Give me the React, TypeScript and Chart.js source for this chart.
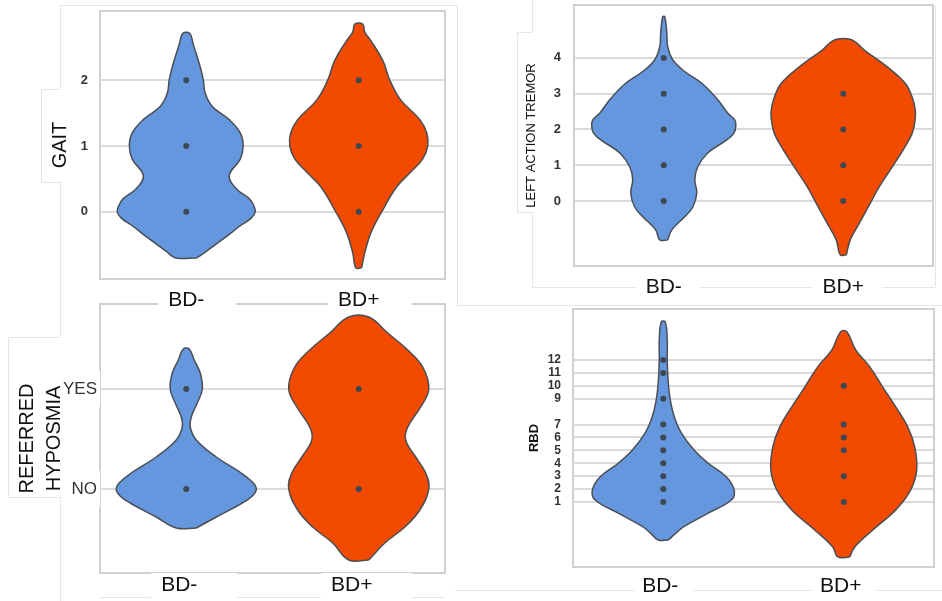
import React, { useEffect, useRef } from 'react';
import { Chart, registerables } from 'chart.js';

Chart.register(...registerables);

const FONT = "'Liberation Sans', Arial, Helvetica, sans-serif";
const BLUE = '#6597DE';
const ORANGE = '#F24A00';
const OUTLINE = '#4a4e55';
const DOT = '#3e4852';
const GRID = '#dadada';
const FRAME = '#d0d0d0';

const categories = ['BD-', 'BD+'];

// GAIT
const gaitTicks = [0, 1, 2];
const gaitMinusY = [-0.70, -0.6, -0.4, -0.2, -0.1, 0.0, 0.1, 0.2, 0.35, 0.55, 0.8, 1.0, 1.2, 1.4, 1.6, 1.8, 2.0, 2.2, 2.4, 2.55, 2.71];
const gaitMinusW = [0.061, 0.116, 0.220, 0.319, 0.375, 0.400, 0.390, 0.365, 0.290, 0.249, 0.313, 0.330, 0.313, 0.249, 0.151, 0.110, 0.099, 0.081, 0.058, 0.040, 0.020];
const gaitMinusPts = [0, 1, 2];
const gaitPlusY = [-0.85, -0.62, -0.32, 0.0, 0.38, 0.59, 0.8, 1.0, 1.2, 1.4, 1.7, 2.0, 2.3, 2.6, 2.73, 2.85];
const gaitPlusW = [0.017, 0.035, 0.070, 0.133, 0.220, 0.296, 0.370, 0.400, 0.394, 0.354, 0.243, 0.180, 0.139, 0.070, 0.035, 0.023];
const gaitPlusPts = [0, 1, 2];

// LEFT ACTION TREMOR
const latTicks = [0, 1, 2, 3, 4];
const latMinusY = [-1.09, -0.81, -0.44, -0.17, 0.22, 0.59, 0.95, 1.34, 1.71, 1.89, 2.07, 2.26, 2.45, 2.83, 3.29, 3.62, 3.95, 4.32, 4.7, 5.15];
const latMinusW = [0.022, 0.045, 0.117, 0.162, 0.184, 0.173, 0.189, 0.245, 0.351, 0.390, 0.401, 0.396, 0.357, 0.301, 0.212, 0.117, 0.050, 0.022, 0.017, 0.006];
const latMinusPts = [0, 1, 2, 3, 4];
const latPlusY = [-1.51, -1.09, -0.63, -0.07, 0.40, 0.95, 1.43, 1.89, 2.3, 2.55, 2.9, 3.29, 3.75, 4.22, 4.45, 4.53];
const latPlusW = [0.017, 0.039, 0.089, 0.150, 0.201, 0.273, 0.334, 0.384, 0.401, 0.401, 0.384, 0.345, 0.245, 0.117, 0.067, 0.033];
const latPlusPts = [0, 1, 2, 3];

// REFERRED HYPOSMIA
const hypTicks = [0, 1];
const hypTickLabels = ['NO', 'YES'];
const hypMinusY = [-0.39, -0.28, -0.14, -0.07, 0.0, 0.07, 0.16, 0.32, 0.49, 0.62, 0.72, 0.86, 1.0, 1.16, 1.29, 1.40];
const hypMinusW = [0.058, 0.174, 0.325, 0.383, 0.406, 0.383, 0.319, 0.174, 0.058, 0.023, 0.029, 0.064, 0.093, 0.081, 0.046, 0.017];
const hypMinusPts = [0, 1];
const hypPlusY = [-0.71, -0.54, -0.38, -0.21, 0.0, 0.16, 0.32, 0.49, 0.62, 0.82, 1.0, 1.22, 1.39, 1.56, 1.72];
const hypPlusW = [0.058, 0.151, 0.267, 0.354, 0.406, 0.388, 0.330, 0.272, 0.284, 0.359, 0.406, 0.371, 0.284, 0.168, 0.058];
const hypPlusPts = [0, 1];

// RBD
const rbdTicks = [1, 2, 3, 4, 5, 6, 7, 9, 10, 11, 12];
const rbdMinusY = [-1.95, -1.4, -0.9, 0.13, 1.15, 1.9, 2.95, 4.0, 5.0, 6.35, 7.6, 8.9, 10.2, 12.0, 13.56, 14.95];
const rbdMinusW = [0.028, 0.072, 0.116, 0.249, 0.377, 0.393, 0.349, 0.249, 0.172, 0.100, 0.061, 0.039, 0.028, 0.022, 0.022, 0.011];
const rbdMinusPts = [1, 2, 3, 4, 5, 6, 7, 9, 11, 12];
const rbdPlusY = [-3.26, -2.49, -1.17, 0.38, 1.93, 3.48, 5.26, 6.8, 8.36, 9.9, 11.47, 12.78, 14.18];
const rbdPlusW = [0.033, 0.061, 0.161, 0.288, 0.371, 0.404, 0.393, 0.355, 0.288, 0.216, 0.144, 0.066, 0.017];
const rbdPlusPts = [1, 3, 5, 6, 7, 10];

type Violin = { ys: number[]; ws: number[]; pts: number[] };
type Pad = { top: number; bottom: number; left: number; right: number };
type Panel = {
  id: string;
  left: number; top: number; width: number; height: number;
  area: { l: number; t: number; r: number; b: number };
  yMin: number; yMax: number; ticks: number[]; tickLabels?: string[];
  title: string | string[]; titleSize: number; titleBold: boolean; titleLine: number; titlePad: number;
  tickSize: number; tickBold: boolean; tickPad: number; tickBackdrop?: Pad;
  xPad: number; xOffset: number; xBackdrop: Pad;
  violins: Violin[]; z: number;
};

const panels: Panel[] = [
  {
    id: 'gait', left: 0, top: 0, width: 470, height: 310,
    area: { l: 100, t: 11, r: 445, b: 279 },
    yMin: -1.02, yMax: 3.05, ticks: gaitTicks,
    title: 'GAIT', titleSize: 20, titleBold: false, titleLine: 1.2, titlePad: 48,
    tickSize: 13, tickBold: true, tickPad: 12,
    xPad: 1, xOffset: 0, xBackdrop: { top: 4, bottom: 2, left: 10, right: 32 },
    violins: [
      { ys: gaitMinusY, ws: gaitMinusW, pts: gaitMinusPts },
      { ys: gaitPlusY, ws: gaitPlusW, pts: gaitPlusPts },
    ],
    z: 2,
  },
  {
    id: 'lat', left: 470, top: 0, width: 472, height: 305,
    area: { l: 104, t: 5, r: 463, b: 266 },
    yMin: -1.82, yMax: 5.48, ticks: latTicks,
    title: 'LEFT ACTION TREMOR', titleSize: 13, titleBold: false, titleLine: 1.2, titlePad: 54,
    tickSize: 13, tickBold: true, tickPad: 13,
    xPad: 1, xOffset: 0, xBackdrop: { top: 4, bottom: 0, left: 10, right: 18 },
    violins: [
      { ys: latMinusY, ws: latMinusW, pts: latMinusPts },
      { ys: latPlusY, ws: latPlusW, pts: latPlusPts },
    ],
    z: 2,
  },
  {
    id: 'hyp', left: 0, top: 300, width: 470, height: 301,
    area: { l: 100, t: 4, r: 445, b: 273 },
    yMin: -0.84, yMax: 1.85, ticks: hypTicks, tickLabels: hypTickLabels,
    title: ['REFERRED', 'HYPOSMIA'], titleSize: 20, titleBold: false, titleLine: 1.35, titlePad: 14,
    tickSize: 17, tickBold: false, tickPad: 3, tickBackdrop: { top: 8, bottom: 8, left: 2, right: 29 },
    xPad: -8, xOffset: -7, xBackdrop: { top: 0, bottom: 9, left: 10, right: 40 },
    violins: [
      { ys: hypMinusY, ws: hypMinusW, pts: hypMinusPts },
      { ys: hypPlusY, ws: hypPlusW, pts: hypPlusPts },
    ],
    z: 1,
  },
  {
    id: 'rbd', left: 455, top: 300, width: 487, height: 301,
    area: { l: 118, t: 9, r: 479, b: 267 },
    yMin: -4.04, yMax: 15.95, ticks: rbdTicks,
    title: 'RBD', titleSize: 13, titleBold: true, titleLine: 1.2, titlePad: 72,
    tickSize: 12, tickBold: true, tickPad: 12,
    xPad: -1, xOffset: -3, xBackdrop: { top: 1, bottom: 2, left: 8, right: 15 },
    violins: [
      { ys: rbdMinusY, ws: rbdMinusW, pts: rbdMinusPts },
      { ys: rbdPlusY, ws: rbdPlusW, pts: rbdPlusPts },
    ],
    z: 1,
  },
];

const framePlugin = {
  id: 'frame',
  beforeDraw(chart: any) {
    const { ctx, chartArea: a } = chart;
    ctx.save();
    ctx.strokeStyle = FRAME;
    ctx.lineWidth = 2;
    ctx.strokeRect(a.left, a.top, a.right - a.left, a.bottom - a.top);
    ctx.restore();
  },
};

function ViolinPanel({ p }: { p: Panel }) {
  const ref = useRef<HTMLCanvasElement>(null);
  useEffect(() => {
    const colors = [BLUE, ORANGE];
    const dotSets = p.violins.map((v, i) => ({
      data: v.pts.map((y) => ({ x: i, y })),
      showLine: false,
      pointRadius: 3,
      pointBackgroundColor: DOT,
      pointBorderWidth: 0,
      pointBorderColor: DOT,
    }));
    const shapeSets = p.violins.map((v, i) => {
      const right = v.ys.map((y, k) => ({ x: i + v.ws[k], y }));
      const left = v.ys.map((y, k) => ({ x: i - v.ws[k], y })).reverse();
      return {
        data: [...right, ...left, right[0]],
        showLine: true,
        fill: 'shape',
        backgroundColor: colors[i],
        borderColor: OUTLINE,
        borderWidth: 1.5,
        pointRadius: 0,
        tension: 0.4,
      };
    });
    const chart = new Chart(ref.current as HTMLCanvasElement, {
      type: 'scatter',
      data: { datasets: [...dotSets, ...shapeSets] as any },
      options: {
        animation: false,
        responsive: false,
        maintainAspectRatio: false,
        events: [],
        layout: { padding: { left: 0, top: p.area.t, right: p.width - p.area.r, bottom: 0 } },
        plugins: { legend: { display: false }, tooltip: { enabled: false } },
        scales: {
          x: {
            type: 'linear',
            min: -0.5,
            max: 1.5,
            afterBuildTicks: (a: any) => { a.ticks = categories.map((_, i) => ({ value: i })); },
            afterFit: (a: any) => {
              a.height = p.height - p.area.b;
              a.paddingLeft = 0;
              a.paddingRight = 0;
            },
            grid: { display: false },
            border: { display: false },
            ticks: {
              autoSkip: false,
              maxRotation: 0,
              padding: p.xPad,
              labelOffset: p.xOffset,
              font: { family: FONT, size: 21 },
              color: '#111',
              callback: (v: any) => categories[v as number] ?? '',
              showLabelBackdrop: true,
              backdropColor: '#ffffff',
              backdropPadding: p.xBackdrop,
            },
          },
          y: {
            type: 'linear',
            min: p.yMin,
            max: p.yMax,
            afterBuildTicks: (a: any) => { a.ticks = p.ticks.map((v) => ({ value: v })); },
            afterFit: (a: any) => {
              a.width = p.area.l;
              a.paddingTop = 0;
              a.paddingBottom = 0;
            },
            grid: { color: GRID, lineWidth: 2, drawTicks: false },
            border: { display: false },
            ticks: {
              autoSkip: false,
              padding: p.tickPad,
              font: { family: FONT, size: p.tickSize, weight: p.tickBold ? 'bold' : 'normal' },
              color: '#333',
              callback: (v: any) => {
                if (p.tickLabels) {
                  const idx = p.ticks.indexOf(v as number);
                  return idx >= 0 ? p.tickLabels[idx] : '';
                }
                return String(v);
              },
              showLabelBackdrop: !!p.tickBackdrop,
              backdropColor: '#ffffff',
              backdropPadding: p.tickBackdrop ?? 0,
            },
            title: {
              display: true,
              text: p.title,
              color: '#111',
              font: { family: FONT, size: p.titleSize, weight: p.titleBold ? 'bold' : 'normal', lineHeight: p.titleLine },
              padding: { top: p.titlePad, bottom: 0 },
            },
          },
        },
      } as any,
      plugins: [framePlugin],
    });
    return () => chart.destroy();
  }, []);
  return (
    <canvas
      ref={ref}
      width={p.width}
      height={p.height}
      style={{ position: 'absolute', left: p.left, top: p.top, width: p.width, height: p.height, zIndex: p.z }}
    />
  );
}

// faint compositing guide lines of the original figure (x1, y1, x2, y2)
const guides: [number, number, number, number][] = [
  [60, 5, 60, 89], [41, 89, 60, 89], [41, 89, 41, 182], [41, 182, 60, 182], [60, 182, 60, 337],
  [8, 337, 60, 337], [8, 337, 8, 497], [8, 497, 60, 497], [60, 497, 60, 601],
  [60, 5, 457, 5], [457, 5, 457, 305], [457, 305, 942, 305],
  [532, 0, 532, 32], [517, 32, 532, 32], [517, 32, 517, 212], [517, 212, 532, 212], [532, 212, 532, 287],
  [532, 287, 935, 287], [935, 5, 935, 287],
  [100, 597, 445, 597], [455, 590, 942, 590],
];

export default function App() {
  return (
    <div style={{ position: 'absolute', left: 0, top: 0, width: 942, height: 601, background: '#fff', overflow: 'hidden' }}>
      {guides.map(([x1, y1, x2, y2], i) => (
        <div
          key={i}
          style={{
            position: 'absolute',
            left: Math.min(x1, x2),
            top: Math.min(y1, y2),
            width: Math.max(1, Math.abs(x2 - x1)),
            height: Math.max(1, Math.abs(y2 - y1)),
            background: '#e6e6e6',
            zIndex: 0,
          }}
        />
      ))}
      {panels.map((p) => <ViolinPanel key={p.id} p={p} />)}
    </div>
  );
}
